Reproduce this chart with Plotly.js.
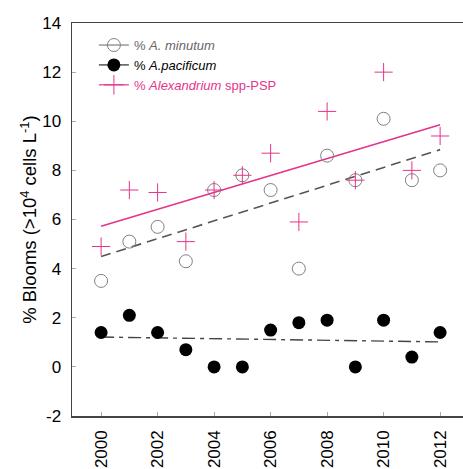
<!DOCTYPE html>
<html>
<head>
<meta charset="utf-8">
<script src="https://cdn.plot.ly/plotly-3.0.1.min.js"></script>
<style>html,body{margin:0;padding:0;background:#fff;}#chart{width:463px;height:469px;}</style>
</head>
<body>
<div id="chart"></div>
<script>
const years = [2000, 2001, 2002, 2003, 2004, 2005, 2006, 2007, 2008, 2009, 2010, 2011, 2012];
const minutum = [3.5, 5.1, 5.7, 4.3, 7.2, 7.8, 7.2, 4.0, 8.6, 7.6, 10.1, 7.6, 8.0];
const pacificum = [1.4, 2.1, 1.4, 0.7, 0.0, 0.0, 1.5, 1.8, 1.9, 0.0, 1.9, 0.4, 1.4];
const psp = [4.9, 7.2, 7.1, 5.1, 7.2, 7.8, 8.7, 5.9, 10.4, 7.6, 12.0, 8.0, 9.4];
const xTicks = [2000, 2002, 2004, 2006, 2008, 2010, 2012];
const yTicks = [-2, 0, 2, 4, 6, 8, 10, 12, 14];

const MAG = '#e6338c';

function fit(xs, ys) {
  const n = xs.length;
  const mx = xs.reduce((a, b) => a + b, 0) / n;
  const my = ys.reduce((a, b) => a + b, 0) / n;
  let sxy = 0, sxx = 0;
  for (let i = 0; i < n; i++) { sxy += (xs[i] - mx) * (ys[i] - my); sxx += (xs[i] - mx) ** 2; }
  const b = sxy / sxx, a = my - b * mx;
  const x0 = xs[0], x1 = xs[n - 1];
  return { x: [x0, x1], y: [a + b * x0, a + b * x1] };
}
const fMin = fit(years, minutum), fPac = fit(years, pacificum), fPsp = fit(years, psp);

const traces = [
  { x: fPsp.x, y: fPsp.y, mode: 'lines', line: { color: MAG, width: 1.6 }, showlegend: false, hoverinfo: 'skip' },
  { x: fMin.x, y: fMin.y, mode: 'lines', line: { color: '#555', width: 1.6, dash: '10px,6px' }, showlegend: false, hoverinfo: 'skip' },
  { x: fPac.x, y: fPac.y, mode: 'lines', line: { color: '#444', width: 1.4, dash: '13px,5px,4px,5px' }, showlegend: false, hoverinfo: 'skip' },
  { x: years, y: minutum, mode: 'markers', marker: { symbol: 'circle-open', size: 13, color: '#808080', line: { width: 1 } }, showlegend: false },
  { x: years, y: pacificum, mode: 'markers', marker: { symbol: 'circle', size: 13, color: '#000' }, showlegend: false },
  { x: years, y: psp, mode: 'markers', marker: { symbol: 'cross-thin-open', size: 13, color: MAG, line: { width: 1, color: MAG } }, showlegend: false },
  { x: [null], y: [null], mode: 'lines+markers', name: '<span style="color:#666">% <i>A. minutum</i></span>',
    line: { color: '#666', width: 1 }, marker: { symbol: 'circle-open', size: 13, color: '#808080', line: { width: 1 } } },
  { x: [null], y: [null], mode: 'lines+markers', name: '<span style="color:#000">% <i>A.pacificum</i></span>',
    line: { color: '#000', width: 1 }, marker: { symbol: 'circle', size: 13, color: '#000' } },
  { x: [null], y: [null], mode: 'lines+markers', name: '<span style="color:' + MAG + '">% <i>Alexandrium</i> spp-PSP</span>',
    line: { color: MAG, width: 1.2 }, marker: { symbol: 'cross-thin-open', size: 14, color: MAG, line: { width: 1, color: MAG } } }
];

const layout = {
  width: 463, height: 469,
  margin: { l: 72, r: 0, t: 23, b: 53, pad: 0 },
  paper_bgcolor: '#fff', plot_bgcolor: '#fff',
  font: { family: 'Liberation Sans, Arial, sans-serif', color: '#000' },
  showlegend: true,
  legend: { x: 0.056, y: 0.982, xanchor: 'left', yanchor: 'top', bgcolor: 'rgba(0,0,0,0)',
            font: { size: 13, family: 'Liberation Sans, Arial, sans-serif' }, tracegroupgap: 0 },
  xaxis: {
    range: [1998.97, 2012.81], tickvals: xTicks, ticktext: xTicks.map(String), tickangle: -90,
    ticks: 'inside', ticklen: 4, tickcolor: '#aaa', tickwidth: 1,
    showline: true, linecolor: '#444', linewidth: 1.5, mirror: true,
    showgrid: false, zeroline: false, tickfont: { size: 17 }, ticklabelstandoff: 6
  },
  yaxis: {
    range: [-2, 14], tickvals: yTicks, ticktext: yTicks.map(String),
    ticks: 'inside', ticklen: 4, tickcolor: '#aaa', tickwidth: 1,
    showline: true, linecolor: '#444', linewidth: 1.5,
    showgrid: false, zeroline: false, tickfont: { size: 17 }, ticklabelstandoff: 6,
    title: { text: '% Blooms (>10<sup>4</sup> cells L<sup>-1</sup>)', font: { size: 18.5 }, standoff: 0 }
  }
};

Plotly.newPlot('chart', traces, layout, { displayModeBar: false, staticPlot: true });
</script>
</body>
</html>
